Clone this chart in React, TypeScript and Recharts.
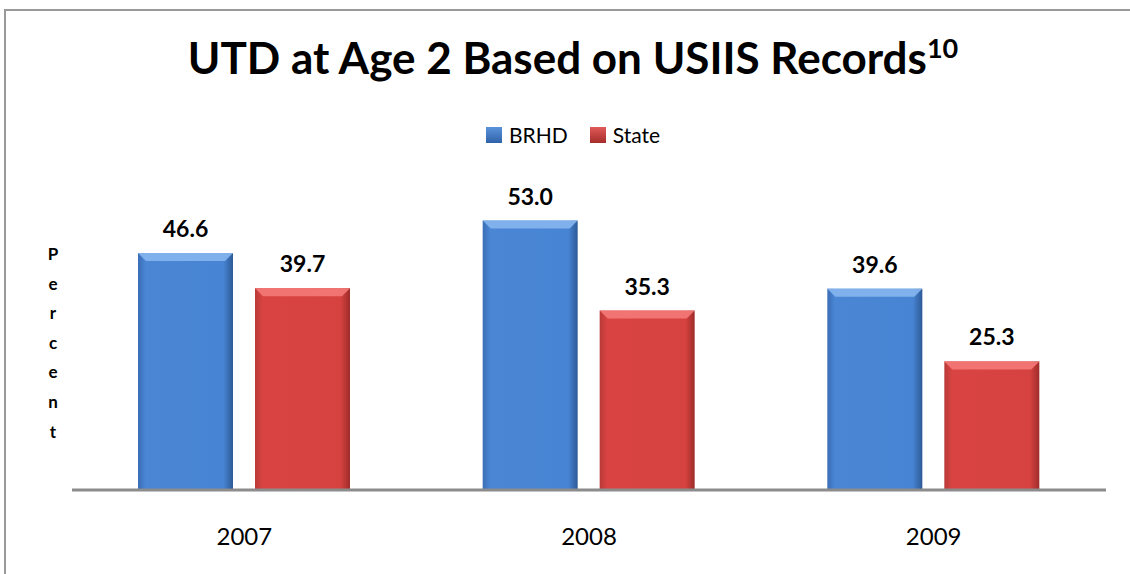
import React from 'react';
import { BarChart, Bar, XAxis, YAxis, LabelList } from 'recharts';

const years = ['2007', '2008', '2009'];
const brhd = [46.6, 53.0, 39.6];
const state = [39.7, 35.3, 25.3];
const yLetters = ['P', 'e', 'r', 'c', 'e', 'n', 't'];

const chartData = years.map((year, i) => ({ year, brhd: brhd[i], state: state[i] }));

const FONT = 'Lato, "Open Sans", sans-serif';

// bevelled bar like the office 3d style
const BevelBar = (props: any) => {
  const { x, y, width, height, colorKey } = props;
  if (height <= 0) return null;
  const b = 8;
  const light = colorKey === 'blue' ? '#86b6ee' : '#f47a78';
  return (
    <g>
      <rect x={x} y={y} width={width} height={height} fill={`url(#side-${colorKey})`} />
      <polygon
        points={`${x},${y} ${x + width},${y} ${x + width - b},${y + b} ${x + b},${y + b}`}
        fill={light}
        opacity={0.9}
      />
    </g>
  );
};

export default function App() {
  return (
    <div style={{ position: 'absolute', left: 0, top: 0, width: 1130, height: 574, overflow: 'hidden', background: '#fff' }}>
      <div style={{ position: 'absolute', left: 4, top: 9, width: 1140, height: 600, border: '2px solid #999' }} />
      <div
        style={{
          position: 'absolute', left: 0, top: 31, width: 1146, textAlign: 'center',
          fontFamily: FONT, fontWeight: 700, fontSize: 44, color: '#000', whiteSpace: 'nowrap',
        }}
      >
        UTD at Age 2 Based on USIIS Records<sup style={{ fontSize: 27 }}>10</sup>
      </div>
      <div style={{ position: 'absolute', left: 486, top: 122, display: 'flex', alignItems: 'center', fontFamily: FONT, fontSize: 21 }}>
        <span style={{ width: 16, height: 16, background: 'linear-gradient(#5a93dc, #2f62a8)', display: 'inline-block' }} />
        <span style={{ marginLeft: 7 }}>BRHD</span>
        <span style={{ width: 16, height: 16, background: 'linear-gradient(#e05a58, #a52d2b)', display: 'inline-block', marginLeft: 22 }} />
        <span style={{ marginLeft: 7 }}>State</span>
      </div>
      {yLetters.map((ch, i) => (
        <div
          key={i}
          style={{
            position: 'absolute', left: 43, width: 20, textAlign: 'center', top: 244 + i * 29.6,
            fontFamily: FONT, fontWeight: 700, fontSize: 17, lineHeight: '20px',
          }}
        >
          {ch}
        </div>
      ))}
      <div style={{ position: 'absolute', left: 0, top: 0 }}>
        <BarChart width={1130} height={574} data={chartData} margin={{ top: 185, right: 24, left: 72, bottom: 0 }} barGap={22}>
          <defs>
            <linearGradient id="side-blue" x1="0" y1="0" x2="1" y2="0">
              <stop offset="0" stopColor="#3a6db5" />
              <stop offset="0.08" stopColor="#4a86d4" />
              <stop offset="0.9" stopColor="#4784d3" />
              <stop offset="1" stopColor="#2d5a96" />
            </linearGradient>
            <linearGradient id="side-red" x1="0" y1="0" x2="1" y2="0">
              <stop offset="0" stopColor="#b83a38" />
              <stop offset="0.08" stopColor="#d94442" />
              <stop offset="0.9" stopColor="#d64240" />
              <stop offset="1" stopColor="#9e2c2a" />
            </linearGradient>
          </defs>
          <XAxis
            dataKey="year"
            height={84}
            axisLine={{ stroke: '#8c8c8c', strokeWidth: 3 }}
            tickLine={false}
            tickSize={0}
            tickMargin={38}
            tick={{ fill: '#000', fontSize: 24, fontFamily: FONT }}
          />
          <YAxis hide domain={[0, 60]} width={0} />
          <Bar dataKey="brhd" barSize={95} isAnimationActive={false} shape={(p: any) => <BevelBar {...p} colorKey="blue" />}>
            <LabelList dataKey="brhd" position="top" offset={16} formatter={(v: any) => Number(v).toFixed(1)}
              style={{ fill: '#000', fontSize: 23, fontWeight: 700, fontFamily: FONT }} />
          </Bar>
          <Bar dataKey="state" barSize={95} isAnimationActive={false} shape={(p: any) => <BevelBar {...p} colorKey="red" />}>
            <LabelList dataKey="state" position="top" offset={16} formatter={(v: any) => Number(v).toFixed(1)}
              style={{ fill: '#000', fontSize: 23, fontWeight: 700, fontFamily: FONT }} />
          </Bar>
        </BarChart>
      </div>
    </div>
  );
}
